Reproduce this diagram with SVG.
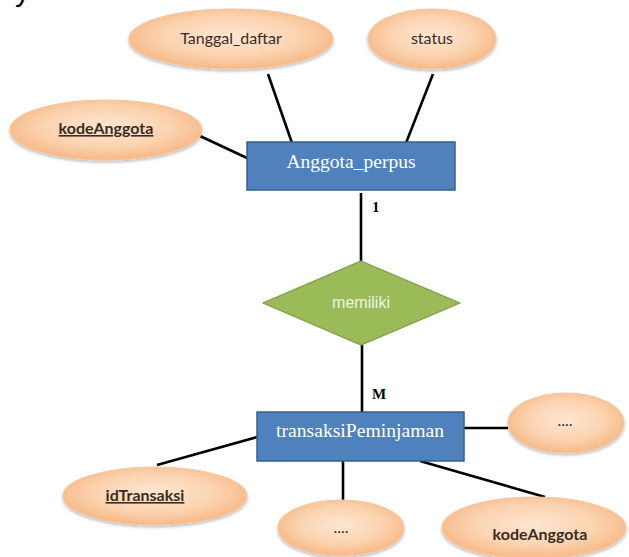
<svg xmlns="http://www.w3.org/2000/svg" width="629" height="557" viewBox="0 0 629 557">
<defs>
<radialGradient id="peach" cx="50%" cy="45%" r="55%">
<stop offset="0%" stop-color="#fde6d2"/>
<stop offset="60%" stop-color="#fbd3b0"/>
<stop offset="100%" stop-color="#f7b886"/>
</radialGradient>
<filter id="sh" x="-10%" y="-10%" width="120%" height="130%">
<feGaussianBlur in="SourceAlpha" stdDeviation="1.5"/>
<feOffset dx="0" dy="2" result="b"/>
<feComponentTransfer><feFuncA type="linear" slope="0.25"/></feComponentTransfer>
<feMerge><feMergeNode/><feMergeNode in="SourceGraphic"/></feMerge>
</filter>
</defs>
<style>
.attr{fill:url(#peach);stroke:#f2c7a2;stroke-width:1.2;filter:url(#sh)}
.at{font-family:Lato,"Liberation Sans",sans-serif;font-size:16px;fill:#3a2c22;text-anchor:middle}
.key{font-weight:bold;text-decoration:underline}
.bold{font-weight:bold}
.ent{fill:#4f81bd;stroke:#385d8a;stroke-width:1.5}
.et{font-family:"Liberation Serif",serif;font-size:18px;fill:#ffffff;text-anchor:middle}
.rel{fill:#9bbb59;stroke:#7f9c46;stroke-width:1.2}
.rt{font-family:"Liberation Sans",sans-serif;font-size:16px;fill:#eef5e2;text-anchor:middle}
.ln{stroke:#000;stroke-width:2.6;fill:none}
.card{font-family:"Liberation Serif",serif;font-size:15px;font-weight:bold;fill:#000}
</style>

<text x="15" y="1" font-family="Liberation Sans,sans-serif" font-size="30" fill="#000">y</text>

<g id="connectors">
<line class="ln" x1="268" y1="74" x2="292" y2="143"/>
<line class="ln" x1="433" y1="74" x2="406" y2="143"/>
<line class="ln" x1="200" y1="136" x2="247" y2="158"/>
<line class="ln" x1="361" y1="193" x2="361" y2="261"/>
<line class="ln" x1="362" y1="345" x2="362" y2="412"/>
<line class="ln" x1="464" y1="428" x2="508" y2="428"/>
<line class="ln" x1="157" y1="465" x2="257" y2="437"/>
<line class="ln" x1="343" y1="461" x2="343" y2="500"/>
<line class="ln" x1="420" y1="461" x2="545" y2="497"/>
<text class="card" x="372" y="212">1</text>
<text class="card" x="372" y="399">M</text>
</g>

<g id="Tanggal_daftar">
<ellipse class="attr" cx="231" cy="39" rx="102" ry="30"/>
<text class="at" x="231" y="44">Tanggal_daftar</text>
</g>
<g id="status">
<ellipse class="attr" cx="432" cy="39" rx="64" ry="30"/>
<text class="at" x="432" y="44">status</text>
</g>
<g id="kodeAnggota1">
<ellipse class="attr" cx="106" cy="130" rx="96" ry="30"/>
<text class="at key" x="106" y="134">kodeAnggota</text>
</g>
<g id="Anggota_perpus">
<rect class="ent" x="247" y="142" width="208" height="48"/>
<text class="et" x="351" y="168" textLength="129" lengthAdjust="spacingAndGlyphs">Anggota_perpus</text>
</g>
<g id="memiliki">
<polygon class="rel" points="361,261 460,303 361,345 263,303"/>
<text class="rt" x="361" y="308" textLength="58" lengthAdjust="spacingAndGlyphs">memiliki</text>
</g>
<g id="transaksiPeminjaman">
<rect class="ent" x="257" y="412" width="207" height="49"/>
<text class="et" x="360" y="437" textLength="168" lengthAdjust="spacingAndGlyphs">transaksiPeminjaman</text>
</g>
<g id="dots_right">
<ellipse class="attr" cx="566" cy="423" rx="58" ry="30"/>
<text class="at" x="565" y="426">....</text>
</g>
<g id="idTransaksi">
<ellipse class="attr" cx="155" cy="496" rx="92" ry="29"/>
<text class="at key" x="145" y="501">idTransaksi</text>
</g>
<g id="dots_bottom">
<ellipse class="attr" cx="341" cy="528" rx="63" ry="28"/>
<text class="at" x="341" y="533">....</text>
</g>
<g id="kodeAnggota2">
<ellipse class="attr" cx="534" cy="528" rx="92" ry="31"/>
<text class="at bold" x="540" y="540">kodeAnggota</text>
</g>
</svg>
